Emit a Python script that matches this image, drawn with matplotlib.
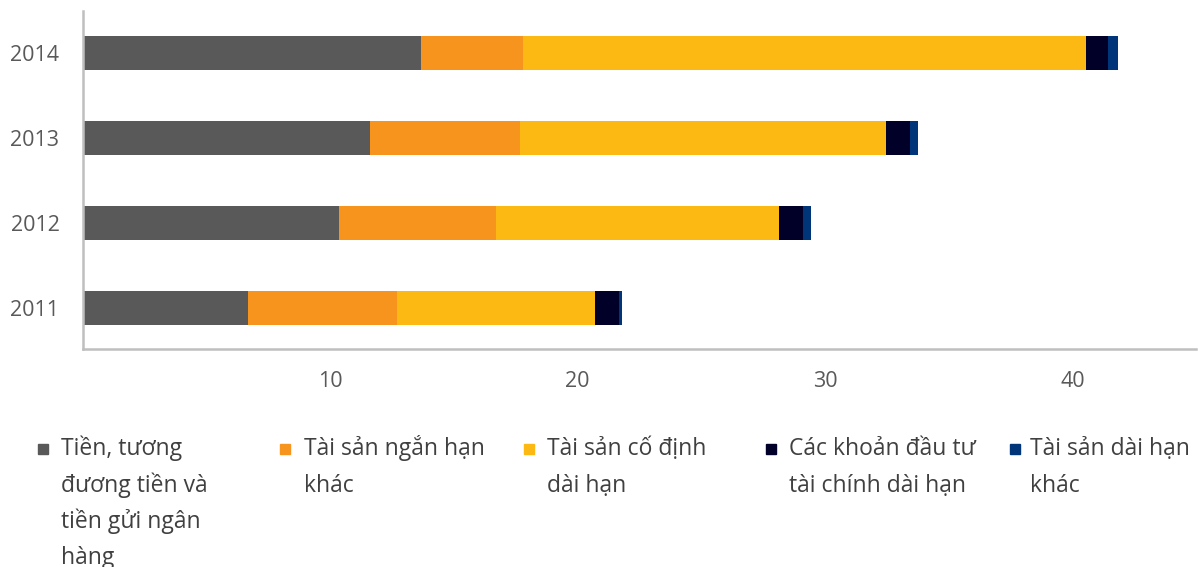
import matplotlib
matplotlib.use("Agg")
import matplotlib.pyplot as plt
import numpy as np

years = ["2011", "2012", "2013", "2014"]
series_names = [
    "Tiền, tương\nđương tiền và\ntiền gửi ngân\nhàng",
    "Tài sản ngắn hạn\nkhác",
    "Tài sản cố định\ndài hạn",
    "Các khoản đầu tư\ntài chính dài hạn",
    "Tài sản dài hạn\nkhác",
]
cash = [6.66, 10.34, 11.62, 13.66]
short_other = [6.05, 6.35, 6.05, 4.13]
fixed_long = [7.98, 11.46, 14.81, 22.77]
fin_invest = [0.99, 0.97, 0.94, 0.87]
long_other = [0.11, 0.31, 0.33, 0.43]
series_values = [cash, short_other, fixed_long, fin_invest, long_other]
colors = ["#595959", "#F7941D", "#FDB913", "#000028", "#00357A"]
x_ticks = [10, 20, 30, 40]

plt.rcParams['font.family'] = ['Open Sans', 'DejaVu Sans']

W, H = 1198, 567
fig = plt.figure(figsize=(W / 100, H / 100), dpi=100)
x0 = 83.0
ax = fig.add_axes([x0 / W, 1 - 349 / H, (1196 - x0) / W, (349 - 11) / H])

y = np.arange(len(years))
left = np.zeros(len(years))
for vals, col in zip(series_values, colors):
    ax.barh(y, vals, left=left, height=0.4, color=col, edgecolor='none')
    left += np.array(vals)

ax.set_xlim(0, 45)
ax.set_ylim(-0.48, 3.5)
ax.set_xticks(x_ticks)
ax.set_xticklabels([str(t) for t in x_ticks])
ax.set_yticks(y)
ax.set_yticklabels(years)
ax.tick_params(axis='both', length=0, labelsize=15.5, colors='#595959')
ax.tick_params(axis='x', pad=16)
ax.tick_params(axis='y', pad=17)
for s in ['top', 'right']:
    ax.spines[s].set_visible(False)
for s in ['left', 'bottom']:
    ax.spines[s].set_color('#bfbfbf')
    ax.spines[s].set_linewidth(1.8)

# legend (manual)
sq_x = [38, 280, 524, 766, 1010]
tx_x = [61, 304, 547, 789, 1030]
base0 = 455
line_h = 36.5
for name, col, sx, tx in zip(series_names, colors, sq_x, tx_x):
    fig.patches.append(plt.Rectangle((sx / W, 1 - 454 / H), 10 / W, 10 / H,
                                     transform=fig.transFigure, color=col, figure=fig))
    for i, line in enumerate(name.split("\n")):
        fig.text(tx / W, 1 - (base0 + i * line_h) / H, line, fontsize=16.5,
                 color='#404040', va='baseline', ha='left')

fig.savefig("out.png", dpi=100)
